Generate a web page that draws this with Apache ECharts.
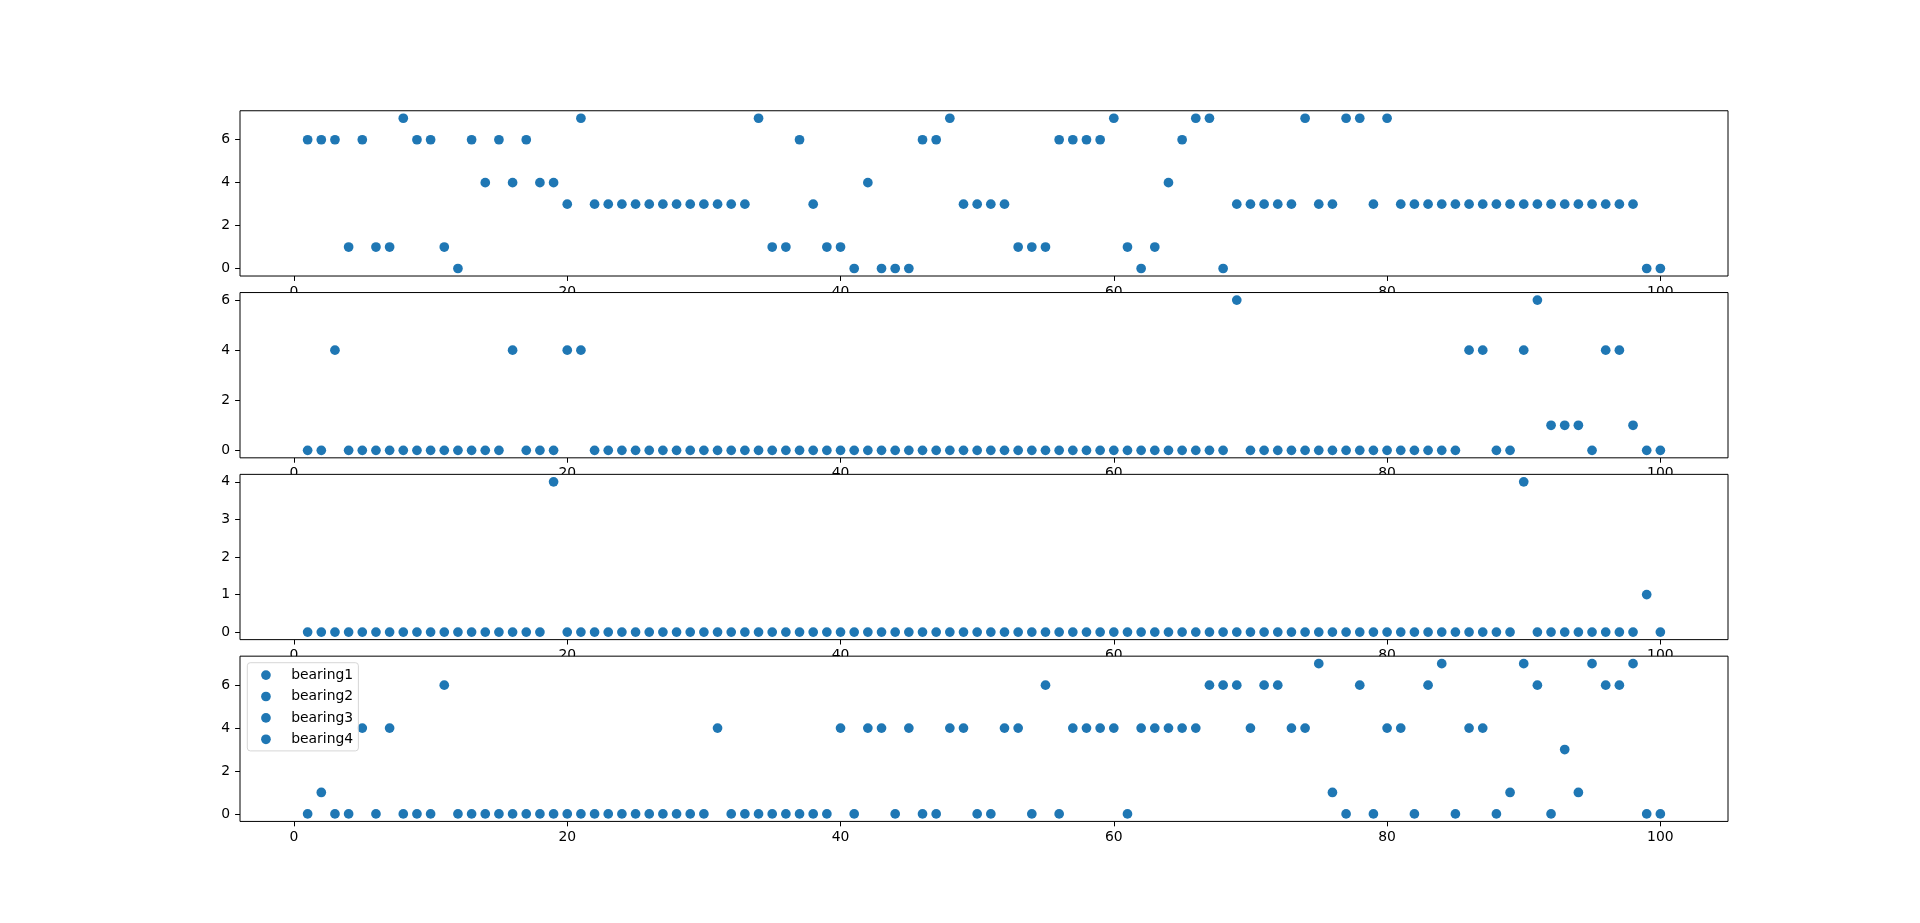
<!DOCTYPE html>
<html>
<head>
<meta charset="utf-8">
<script src="https://cdn.jsdelivr.net/npm/echarts@6/dist/echarts.min.js"></script>
<style>
  html, body { margin: 0; padding: 0; background: #fff; }
  #chart { width: 1920px; height: 923px; }
</style>
</head>
<body>
<div id="chart"></div>
<script>
// ---- data ----
const sampleIndex = Array.from({ length: 100 }, (_, i) => i + 1);
const seriesNames = ['bearing1', 'bearing2', 'bearing3', 'bearing4'];

const bearing1 = [6,6,6,1,6,1,1,7,6,6, 1,0,6,4,6,4,6,4,4,3, 7,3,3,3,3,3,3,3,3,3, 3,3,3,7,1,1,6,3,1,1,
                  0,4,0,0,0,6,6,7,3,3, 3,3,1,1,1,6,6,6,6,7, 1,0,1,4,6,7,7,0,3,3, 3,3,3,7,3,3,7,7,3,7,
                  3,3,3,3,3,3,3,3,3,3, 3,3,3,3,3,3,3,3,0,0];
const bearing2 = [0,0,4,0,0,0,0,0,0,0, 0,0,0,0,0,4,0,0,0,4, 4,0,0,0,0,0,0,0,0,0, 0,0,0,0,0,0,0,0,0,0,
                  0,0,0,0,0,0,0,0,0,0, 0,0,0,0,0,0,0,0,0,0, 0,0,0,0,0,0,0,0,6,0, 0,0,0,0,0,0,0,0,0,0,
                  0,0,0,0,0,4,4,0,0,4, 6,1,1,1,0,4,4,1,0,0];
const bearing3 = [0,0,0,0,0,0,0,0,0,0, 0,0,0,0,0,0,0,0,4,0, 0,0,0,0,0,0,0,0,0,0, 0,0,0,0,0,0,0,0,0,0,
                  0,0,0,0,0,0,0,0,0,0, 0,0,0,0,0,0,0,0,0,0, 0,0,0,0,0,0,0,0,0,0, 0,0,0,0,0,0,0,0,0,0,
                  0,0,0,0,0,0,0,0,0,4, 0,0,0,0,0,0,0,0,1,0];
const bearing4 = [0,1,0,0,4,0,4,0,0,0, 6,0,0,0,0,0,0,0,0,0, 0,0,0,0,0,0,0,0,0,0, 4,0,0,0,0,0,0,0,0,4,
                  0,4,4,0,4,0,0,4,4,0, 0,4,4,0,6,0,4,4,4,4, 0,4,4,4,4,4,6,6,6,4, 6,6,4,4,7,1,0,6,0,4,
                  4,0,6,7,0,4,4,0,1,7, 6,0,3,1,7,6,6,7,0,0];

const xTicks = [0, 20, 40, 60, 80, 100];
const yTicks1 = [0, 2, 4, 6];
const yTicks2 = [0, 2, 4, 6];
const yTicks3 = [0, 1, 2, 3, 4];
const yTicks4 = [0, 2, 4, 6];

// ---- layout / style ----
const allValues = [bearing1, bearing2, bearing3, bearing4];
const allYTicks = [yTicks1, yTicks2, yTicks3, yTicks4];
const blue = '#1f77b4';
const FONT = 'DejaVu Sans';
const FS = 13.9;
const gridTops = [110.76, 292.56, 474.36, 656.16];
const gridH = 165.27;
const yRanges = [[-0.35, 7.35], [-0.3, 6.3], [-0.2, 4.2], [-0.35, 7.35]];

const grids = [], xAxes = [], yAxes = [], series = [];
for (let k = 0; k < 4; k++) {
  grids.push({
    left: 240, width: 1488, top: gridTops[k], height: gridH,
    show: true, backgroundColor: '#ffffff', borderColor: '#000000', borderWidth: 1,
    containLabel: false, z: 1
  });
  xAxes.push({
    type: 'value', gridIndex: k, min: -3.95, max: 104.95, position: 'bottom', z: 0,
    axisLine: { show: false, onZero: false },
    splitLine: { show: false },
    axisTick: { show: true, inside: false, length: 4.9, customValues: xTicks,
                lineStyle: { color: '#000', width: 1 } },
    axisLabel: { show: true, customValues: xTicks, margin: 9, color: '#000',
                 fontFamily: FONT, fontSize: FS, showMinLabel: true, showMaxLabel: true }
  });
  yAxes.push({
    type: 'value', gridIndex: k, min: yRanges[k][0], max: yRanges[k][1], position: 'left', z: 0,
    axisLine: { show: false, onZero: false },
    splitLine: { show: false },
    axisTick: { show: true, inside: false, length: 4.9, customValues: allYTicks[k],
                lineStyle: { color: '#000', width: 1 } },
    axisLabel: { show: true, customValues: allYTicks[k], margin: 10, color: '#000',
                 fontFamily: FONT, fontSize: FS, showMinLabel: true, showMaxLabel: true }
  });
  series.push({
    name: seriesNames[k],
    type: 'scatter',
    xAxisIndex: k, yAxisIndex: k,
    symbol: 'circle', symbolSize: 9.7, z: 2,
    itemStyle: { color: blue, opacity: 1 },
    emphasis: { disabled: true },
    data: sampleIndex.map((x, i) => [x, allValues[k][i]])
  });
}

const chart = echarts.init(document.getElementById('chart'), null, { renderer: 'canvas' });
chart.setOption({
  animation: false,
  backgroundColor: '#ffffff',
  grid: grids,
  xAxis: xAxes,
  yAxis: yAxes,
  legend: {
    data: seriesNames,
    orient: 'vertical',
    left: 247.3, top: 662.7, z: 5,
    icon: 'circle',
    itemWidth: 40.5, itemHeight: 9.7, itemGap: 5.4,
    padding: [4.4, 5.3, 3.6, 13.8],
    backgroundColor: 'rgba(255,255,255,0.8)',
    borderColor: 'rgba(204,204,204,0.8)', borderWidth: 1, borderRadius: 3,
    selectedMode: false,
    textStyle: { color: '#000', fontFamily: FONT, fontSize: FS, lineHeight: 16 }
  },
  series: series
});
</script>
</body>
</html>
